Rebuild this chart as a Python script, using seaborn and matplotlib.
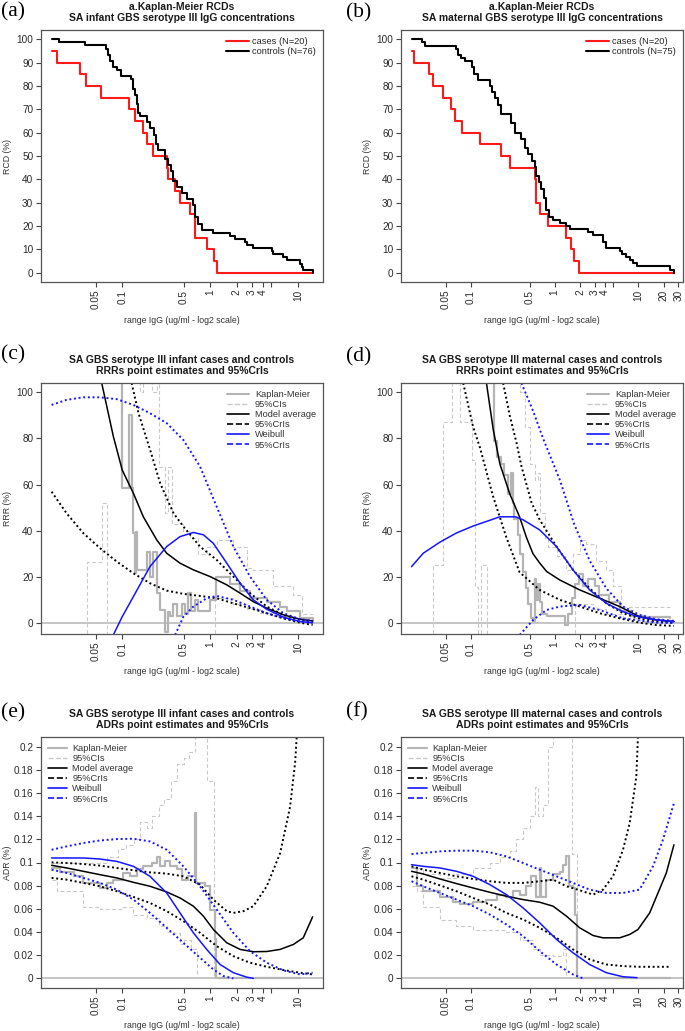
import matplotlib
matplotlib.use('Agg')
import matplotlib.pyplot as plt
from matplotlib.lines import Line2D
from matplotlib.ticker import NullLocator
import seaborn as sns

sns.set_theme(style='ticks')
plt.rcParams['font.family'] = ['Liberation Sans', 'DejaVu Sans']

# ---------------- (a) infant Kaplan-Meier RCDs ----------------
a_case_x = [0.0157, 0.0183, 0.033, 0.0384, 0.0574, 0.12, 0.14, 0.174, 0.19, 0.222, 0.321, 0.335,
            0.40, 0.455, 0.59, 0.675, 0.93, 1.12, 1.19, 14.7]
a_case_y = [95, 90, 85, 80, 75, 70, 65, 60, 55, 50, 45, 40, 35, 30, 25, 15, 10, 5, 0, 0]
a_ctrl_x = [0.0157, 0.0193, 0.0378, 0.0655, 0.0696, 0.0727, 0.078, 0.0866, 0.0962, 0.125, 0.132,
            0.138, 0.146, 0.153, 0.160, 0.190, 0.207, 0.230, 0.243, 0.258, 0.308, 0.336, 0.360,
            0.383, 0.417, 0.475, 0.542, 0.646, 0.675, 0.736, 0.804, 1.09, 1.69, 1.93, 2.50, 2.61,
            3.11, 5.03, 5.17, 6.72, 7.46, 10.6, 11.1, 11.4, 14.7]
a_ctrl_y = [100, 98.7, 97.4, 96, 93.4, 90.8, 88.2, 86.8, 84.2, 82.9, 78.9, 76.3, 72.4, 68.4, 67.1,
            64.5, 61.8, 59.2, 55.3, 52.6, 48.7, 46, 43.4, 39.5, 36.8, 34.2, 31.6, 28.9, 23.7, 21,
            18.4, 17.1, 15.8, 14.5, 13.2, 11.8, 10.5, 9.2, 7.9, 6.6, 5.3, 3.9, 2.6, 1.3, 0]

# ---------------- (b) maternal Kaplan-Meier RCDs ----------------
b_case_x = [0.0195, 0.0208, 0.0317, 0.0354, 0.0457, 0.0585, 0.0653, 0.0785, 0.127, 0.231, 0.296,
            0.577, 0.604, 0.662, 0.832, 1.38, 1.58, 1.70, 1.93, 26.5]
b_case_y = [95, 90, 85, 80, 75, 70, 65, 60, 55, 50, 45, 40, 30, 25, 20, 15, 10, 5, 0, 0]
b_ctrl_x = [0.0195, 0.0257, 0.0281, 0.0671, 0.0703, 0.077, 0.0844, 0.104, 0.109, 0.120, 0.168,
            0.180, 0.192, 0.211, 0.231, 0.304, 0.333, 0.400, 0.439, 0.481, 0.542, 0.577, 0.604,
            0.650, 0.694, 0.740, 0.796, 0.856, 0.955, 1.15, 1.38, 1.51, 2.50, 2.87, 3.77, 4.13,
            5.96, 6.42, 7.03, 7.85, 8.60, 9.68, 23.5, 26.5]
b_ctrl_y = [100, 98.7, 97.3, 96, 93.3, 92, 90.7, 88, 85.3, 82.7, 80, 77.3, 74.7, 72, 68, 64, 60,
            57.3, 53.3, 50.7, 48, 45.3, 41.3, 38.7, 36, 32, 26.7, 24, 22.7, 21.3, 20, 18.7, 17.3,
            16, 13.3, 10.7, 9.3, 8, 6.7, 5.3, 4, 2.7, 1.3, 0]

# ---------------- (c) infant RRR ----------------
c_km_x = [0.0906, 0.099, 0.121, 0.129, 0.134, 0.140, 0.143, 0.147, 0.190, 0.208, 0.227, 0.247,
          0.270, 0.308, 0.333, 0.350, 0.383, 0.417, 0.475, 0.520, 0.566, 0.600, 0.675, 0.736,
          1.00, 1.17, 1.69, 2.20, 2.85, 4.42, 6.27, 7.46, 10.6, 14.7]
c_km_y = [110, 58.4, 90, 58.4, 39, 21.6, 39.4, 23, 30.7, 20, 30.7, 13, 5.6, -4, 4.7, 3, 8, 3, 8,
          4, 13, 5, 10, 5, 10, 20, 17, 14, 11, 9, 7, 5, 2, 1]
c_ciu1_x = [0.0399, 0.0399, 0.059, 0.0673, 0.0673]
c_ciu1_y = [-10, 26.4, 52, 52, -10]
c_ciu2_x = [0.134, 0.160, 0.174, 0.217, 0.247, 0.265, 0.308, 0.336, 0.366, 0.497, 0.59, 0.736,
            0.916, 1.19, 1.84, 2.61, 3.11, 5.26, 8.89, 11.1, 14.7]
c_ciu2_y = [110, 100, 110, 100, 110, 67.8, 47.5, 67.8, 43, 40, 37, 30, 33, 36, 33, 24, 23, 16,
            12, 4, 4]
c_cil_x = [1.14, 1.14, 1.84, 2.61, 3.71, 5.74, 8.89, 14.7]
c_cil_y = [-10, 10.7, 8, 6, 4.5, 3, 2, 0.5]
c_avg_x = [0.0559, 0.0584, 0.0793, 0.1, 0.134, 0.174, 0.247, 0.321, 0.455, 0.646, 1.0, 1.55,
           2.20, 3.11, 4.42, 6.84, 10.6, 14.7]
c_avg_y = [110, 104, 80.8, 66.3, 56.2, 46, 36, 30.2, 25.9, 23, 20.1, 16.5, 12.9, 9.2, 6.4, 3.5,
           1.6, 0.9]
c_avg_lo_x = [0.0157, 0.0233, 0.0361, 0.0559, 0.0866, 0.134, 0.207, 0.321, 0.497, 0.769, 1.19,
              1.84, 2.85, 4.42, 6.84, 10.6, 14.7]
c_avg_lo_y = [56.9, 47.5, 38.9, 32.4, 26.6, 21.5, 17.2, 14, 12.6, 11.7, 10.7, 8.5, 6.4, 4.2, 2,
              0.1, -0.9]
c_avg_hi_x = [0.128, 0.153, 0.208, 0.27, 0.383, 0.497, 0.769, 1.19, 1.84, 2.85, 4.42, 6.84,
              10.6, 14.7]
c_avg_hi_y = [104, 91, 75, 60.6, 47.6, 41.8, 33.1, 27.3, 20.1, 12.9, 7.1, 3.5, 1.3, 0.6]
c_wei_x = [0.0793, 0.1, 0.134, 0.207, 0.321, 0.455, 0.646, 0.84, 1.09, 1.55, 2.20, 3.11, 4.42,
           6.84, 10.6, 14.7]
c_wei_y = [-5.2, 2.7, 11.4, 24.4, 33.1, 37.4, 39.2, 38.2, 34.5, 25.9, 17.2, 10, 5.9, 2.5, 0.6,
           0.1]
c_wei_hi_x = [0.0157, 0.0233, 0.0361, 0.0559, 0.0866, 0.134, 0.207, 0.321, 0.497, 0.769, 1.19,
              1.84, 2.85, 4.42, 6.84, 10.6, 14.7]
c_wei_hi_y = [94.5, 96.7, 97.8, 97.8, 97, 94.5, 90.9, 86.6, 79.3, 67.8, 50.4, 33.1, 20.1, 10,
              4.2, 1.6, 0.9]
c_wei_lo_x = [0.40, 0.497, 0.646, 0.916, 1.19, 1.84, 2.85, 4.42, 6.84, 10.6, 14.7]
c_wei_lo_y = [-5.2, 2.7, 7.1, 10.7, 11.7, 10, 7.1, 4.2, 2, 0.6, 0.1]

# ---------------- (d) maternal RRR ----------------
d_km_x = [0.18, 0.187, 0.205, 0.23, 0.25, 0.28, 0.30, 0.315, 0.33, 0.36, 0.39, 0.42, 0.45, 0.48,
          0.52, 0.55, 0.58, 0.60, 0.63, 0.66, 0.70, 0.80, 1.0, 1.32, 1.45, 1.6, 1.75, 1.95, 2.2,
          2.5, 3.0, 3.4, 4.5, 6.0, 8.0, 12.0, 23.5]
d_km_y = [110, 79, 72, 69, 64, 56, 65, 52, 45, 38, 30, 22, 15, 8, 2, 1, 19, 10, 17, 9, 4, 3, 3,
          -1, 4, 11, 17, 21, 16, 19, 16, 12, 9, 5, 3, 2.5, 2.3]
d_ciu1_x = [0.0354, 0.0354, 0.0466, 0.0587, 0.0738, 0.1017, 0.111, 0.122]
d_ciu1_y = [-10, 25, 87, 110, 87, 70.6, 15.7, -10]
d_ciu2_x = [0.131, 0.131, 0.156]
d_ciu2_y = [-10, 25, -10]
d_ciu3_x = [0.349, 0.382, 0.439, 0.503, 0.577, 0.633, 0.662, 0.76, 0.833, 1.05, 1.38, 1.65,
            1.99, 2.39, 3.14, 4.13, 4.96, 6.24, 23.5]
d_ciu3_y = [110, 100, 85, 69, 62, 65, 47.5, 37, 33, 29, 23, 30, 36, 34, 27, 23, 16, 7, 7]
d_cil_x = [1.73, 1.73, 2.87, 4.13, 6.53, 10.3, 23.5]
d_cil_y = [-10, 8, 6, 4, 2, 1, 0.5]
d_avg_x = [0.153, 0.184, 0.221, 0.29, 0.38, 0.46, 0.55, 0.66, 0.80, 1.15, 1.99, 3.44, 5.96, 10.3,
           16.3, 26.5]
d_avg_y = [104, 84, 69, 56, 46, 37, 30, 26, 22.3, 18.6, 14.3, 10.7, 7.1, 2.7, 1.3, 0.6]
d_avg_lo_x = [0.0807, 0.106, 0.128, 0.183, 0.265, 0.38, 0.66, 1.15, 1.99, 3.44, 5.96, 10.3, 16.3,
              26.5]
d_avg_lo_y = [104, 85, 76, 55, 37, 22, 14.3, 10, 7.1, 4.2, 2, 0.1, -0.9, -1.3]
d_avg_hi_x = [0.242, 0.29, 0.35, 0.40, 0.46, 0.53, 0.662, 1.05, 1.65, 2.61, 4.13, 6.53, 10.3,
              16.3, 26.5]
d_avg_hi_y = [104, 90, 78, 68, 60, 52, 44.7, 33.1, 23, 15, 8.5, 4.2, 2, 0.6, 0]
d_wei_x = [0.0195, 0.0269, 0.0425, 0.0671, 0.106, 0.168, 0.221, 0.34, 0.419, 0.662, 1.05, 1.65,
           2.61, 4.13, 6.53, 10.3, 16.3, 26.5]
d_wei_y = [24.4, 30.2, 35, 39, 42, 44.5, 46, 46, 44.7, 40.3, 33.1, 23, 14.3, 8.5, 4.9, 2.5, 1.3,
           0.6]
d_wei_hi_x = [0.40, 0.55, 0.725, 1.15, 1.7, 2.61, 4.13, 6.53, 10.3, 16.3, 26.5]
d_wei_hi_y = [104, 92, 80, 62, 43, 27, 15, 7.1, 3.5, 1.6, 0.9]
d_wei_lo_x = [0.382, 0.552, 0.796, 1.15, 1.99, 3.44, 6.53, 16.3, 26.5]
d_wei_lo_y = [-5.2, 1.3, 5.6, 7.1, 7.8, 5.6, 2, 0.1, 0]

# ---------------- (e) infant ADR ----------------
e_km_x = [0.0157, 0.0195, 0.0279, 0.0361, 0.0559, 0.0665, 0.0793, 0.102, 0.123, 0.146, 0.174,
          0.217, 0.247, 0.27, 0.308, 0.35, 0.417, 0.475, 0.566, 0.675, 0.685, 0.877, 1.0, 1.14,
          1.17, 10.6]
e_km_y = [0.095, 0.092, 0.088, 0.082, 0.078, 0.082, 0.085, 0.091, 0.088, 0.094, 0.097, 0.0996,
          0.105, 0.097, 0.101, 0.097, 0.094, 0.085, 0.088, 0.143, 0.082, 0.0795, 0.059, 0.034,
          0.0, 0.0]
e_ciu_x = [0.0157, 0.0361, 0.0664, 0.09, 0.11, 0.135, 0.16, 0.19, 0.22, 0.26, 0.30, 0.36, 0.42,
           0.50, 0.58, 0.68, 0.93, 1.11]
e_ciu_y = [0.10, 0.10, 0.105, 0.112, 0.115, 0.12, 0.135, 0.13, 0.14, 0.15, 0.155, 0.17, 0.185,
           0.19, 0.195, 0.215, 0.17, 0.0]
e_cil_x = [0.0157, 0.0183, 0.0361, 0.0559, 0.10, 0.134, 0.19, 0.26, 0.32, 0.39, 0.45, 0.50, 0.60,
           0.705]
e_cil_y = [0.085, 0.075, 0.062, 0.06, 0.062, 0.055, 0.052, 0.045, 0.04, 0.039, 0.03, 0.033,
           0.025, 0.0]
e_avg_x = [0.0157, 0.0233, 0.0361, 0.0559, 0.0866, 0.134, 0.207, 0.321, 0.455, 0.646, 0.84,
           1.09, 1.55, 2.20, 3.11, 4.42, 6.27, 8.89, 11.5, 14.7]
e_avg_y = [0.0976, 0.0953, 0.0924, 0.0895, 0.0867, 0.0829, 0.0795, 0.0746, 0.0694, 0.0623,
           0.0537, 0.0422, 0.0307, 0.025, 0.023, 0.0232, 0.025, 0.0293, 0.035, 0.0531]
e_avg_hi_x = [0.0157, 0.0233, 0.0361, 0.0559, 0.0866, 0.134, 0.207, 0.321, 0.497, 0.769, 1.09,
              1.55, 1.84, 2.40, 3.11, 4.42, 6.27, 8.14, 9.29, 9.70]
e_avg_hi_y = [0.1001, 0.0996, 0.0987, 0.0973, 0.0953, 0.0933, 0.0915, 0.0904, 0.0881, 0.0809,
              0.068, 0.058, 0.0565, 0.058, 0.0623, 0.0795, 0.108, 0.148, 0.186, 0.209]
e_avg_lo_x = [0.0157, 0.0233, 0.0361, 0.0559, 0.0866, 0.134, 0.207, 0.321, 0.497, 0.769, 1.19,
              1.84, 2.85, 4.42, 6.84, 10.6, 14.7]
e_avg_lo_y = [0.0867, 0.0852, 0.0824, 0.0795, 0.0752, 0.0703, 0.0651, 0.058, 0.0494, 0.0393,
              0.0278, 0.0192, 0.0135, 0.010, 0.0072, 0.0049, 0.0034]
e_wei_x = [0.0157, 0.0361, 0.0559, 0.0866, 0.134, 0.207, 0.321, 0.455, 0.646, 0.916, 1.30, 1.84,
           2.61, 3.11]
e_wei_y = [0.1039, 0.1039, 0.103, 0.101, 0.0967, 0.0881, 0.0737, 0.0565, 0.0393, 0.025, 0.012,
           0.0049, 0.0011, 0.0]
e_wei_hi_x = [0.0157, 0.0233, 0.0361, 0.0559, 0.0866, 0.134, 0.207, 0.321, 0.497, 0.769, 1.19,
              1.84, 2.85, 4.42, 6.84, 10.6, 14.7]
e_wei_hi_y = [0.111, 0.1139, 0.1168, 0.119, 0.1202, 0.1205, 0.1182, 0.111, 0.0967, 0.0795,
              0.0594, 0.0393, 0.0235, 0.0135, 0.0069, 0.0034, 0.0049]
e_wei_lo_x = [0.0157, 0.0233, 0.0361, 0.0559, 0.0866, 0.134, 0.207, 0.321, 0.497, 0.769, 1.09,
              1.42, 1.84]
e_wei_lo_y = [0.0938, 0.091, 0.0867, 0.0824, 0.0766, 0.068, 0.0565, 0.0436, 0.0307, 0.0178,
              0.0077, 0.002, 0.0]

# ---------------- (f) maternal ADR ----------------
f_km_x = [0.0195, 0.0225, 0.0269, 0.0425, 0.0613, 0.0737, 0.106, 0.153, 0.202, 0.265, 0.318,
          0.382, 0.459, 0.527, 0.604, 0.662, 0.694, 0.796, 0.955, 1.15, 1.26, 1.38, 1.48, 1.65,
          1.73, 1.85, 23.5]
f_km_y = [0.095, 0.08, 0.075, 0.070, 0.066, 0.064, 0.066, 0.068, 0.072, 0.070, 0.075, 0.072,
          0.080, 0.088, 0.070, 0.095, 0.070, 0.085, 0.090, 0.092, 0.098, 0.106, 0.080, 0.078,
          0.055, 0.0, 0.0]
f_ciu_x = [0.0195, 0.0269, 0.0425, 0.0671, 0.106, 0.168, 0.221, 0.29, 0.349, 0.419, 0.503, 0.577,
           0.633, 0.726, 0.833, 0.955, 1.58, 1.62, 1.85]
f_ciu_y = [0.095, 0.09, 0.087, 0.09, 0.095, 0.10, 0.105, 0.11, 0.12, 0.13, 0.14, 0.165, 0.14,
           0.15, 0.2, 0.215, 0.215, 0.107, 0.0]
f_cil_x = [0.0195, 0.0225, 0.0269, 0.0425, 0.0671, 0.106, 0.168, 0.265, 0.382, 0.552, 0.662,
           0.955, 1.26, 1.38]
f_cil_y = [0.08, 0.075, 0.062, 0.05, 0.045, 0.042, 0.042, 0.04, 0.033, 0.025, 0.02, 0.019, 0.025,
           0.0]
f_avg_x = [0.0195, 0.0269, 0.0425, 0.0671, 0.106, 0.168, 0.265, 0.419, 0.662, 0.955, 1.38, 1.99,
           2.87, 3.77, 5.96, 7.85, 9.86, 13.6, 21.5, 26.5]
f_avg_y = [0.0924, 0.0901, 0.0858, 0.0818, 0.078, 0.0743, 0.0709, 0.068, 0.0657, 0.0623, 0.0537,
           0.0436, 0.037, 0.035, 0.035, 0.0379, 0.0422, 0.0565, 0.091, 0.1153]
f_avg_hi_x = [0.0195, 0.0269, 0.0425, 0.0671, 0.106, 0.168, 0.265, 0.419, 0.662, 0.955, 1.38,
              1.99, 2.87, 3.77, 4.96, 6.53, 7.85, 9.42, 9.86]
f_avg_hi_y = [0.0967, 0.0938, 0.091, 0.0881, 0.0858, 0.0838, 0.0824, 0.0824, 0.0838, 0.0852,
              0.0795, 0.076, 0.0723, 0.0766, 0.0881, 0.111, 0.134, 0.174, 0.209]
f_avg_lo_x = [0.0195, 0.0269, 0.0425, 0.0671, 0.106, 0.168, 0.265, 0.419, 0.662, 1.05, 1.65,
              2.61, 4.13, 6.53, 10.3, 23.5]
f_avg_lo_y = [0.0881, 0.0852, 0.0803, 0.0752, 0.0694, 0.0637, 0.0565, 0.0508, 0.0436, 0.035,
              0.025, 0.0164, 0.012, 0.0106, 0.01, 0.01]
f_wei_x = [0.0195, 0.0269, 0.0425, 0.0671, 0.106, 0.168, 0.265, 0.419, 0.662, 1.05, 1.65, 2.61,
           4.13, 6.53, 9.6]
f_wei_y = [0.0981, 0.0967, 0.0953, 0.0924, 0.0881, 0.0809, 0.0723, 0.0608, 0.0479, 0.0336,
           0.0221, 0.012, 0.0049, 0.0014, 0.0006]
f_wei_hi_x = [0.0195, 0.0269, 0.0425, 0.0671, 0.106, 0.168, 0.265, 0.419, 0.662, 1.05, 1.65,
              2.61, 4.13, 6.53, 10.3, 14.9, 19.6, 26.5]
f_wei_hi_y = [0.1073, 0.1082, 0.1096, 0.1102, 0.1102, 0.1088, 0.1053, 0.0996, 0.0938, 0.0881,
              0.0824, 0.0766, 0.0737, 0.0737, 0.0766, 0.0967, 0.1197, 0.1512]
f_wei_lo_x = [0.0195, 0.0269, 0.0425, 0.0671, 0.106, 0.168, 0.265, 0.419, 0.662, 1.05, 1.65, 2.18]
f_wei_lo_y = [0.0838, 0.0795, 0.0737, 0.068, 0.0623, 0.0551, 0.0465, 0.0364, 0.0235, 0.012,
              0.0034, 0.0]

# ---------------- axis settings ----------------
xt_infant = [0.05, 0.1, 0.5, 1, 2, 3, 4, 5, 10]
xl_infant = ['0.05', '0.1', '0.5', '1', '2', '3', '4', '', '10']
xt_maternal = [0.05, 0.1, 0.5, 1, 2, 3, 4, 5, 10, 20, 30]
xl_maternal = ['0.05', '0.1', '0.5', '1', '2', '3', '4', '', '10', '20', '30']
yt_rcd = list(range(0, 101, 10))
yt_rrr = list(range(0, 101, 20))
yt_adr = [0, 0.02, 0.04, 0.06, 0.08, 0.1, 0.12, 0.14, 0.16, 0.18, 0.2]
yl_adr = ['0', '0.02', '0.04', '0.06', '0.08', '0.1', '0.12', '0.14', '0.16', '0.18', '0.2']

RED = '#ff1a1a'
BLUE = '#1515ff'
KMGRAY = '#b4b4b4'
CIGRAY = '#c9c9c9'
ZERO = '#c0c0c0'
DOT = (0, (1, 1.4))
DASH = (0, (3.5, 2.2))
TXT = '#2a2a2a'

W, H = 685, 1031
fig = plt.figure(figsize=(W / 100, H / 100), dpi=100)


def add_axes(left, top, right, bottom):
    return fig.add_axes([left / W, 1 - bottom / H, (right - left) / W, (bottom - top) / H])


def draw(ax, x, y, color, lw=1.0, ls='-', steps=False):
    sns.lineplot(x=x, y=y, ax=ax, color=color, linewidth=lw, linestyle=ls,
                 estimator=None, sort=False, legend=False,
                 drawstyle='steps-post' if steps else 'default')


def finish(ax, title, xlim, xt, xl, ylim, yt, yl, ylabel):
    ax.set_xscale('log')
    ax.set_xlim(xlim)
    ax.set_ylim(ylim)
    ax.set_xticks(xt)
    ax.set_xticklabels(xl, rotation=90)
    ax.xaxis.set_minor_locator(NullLocator())
    ax.set_yticks(yt)
    ax.set_yticklabels(yl)
    ax.tick_params(axis='both', direction='out', length=3.5, width=0.8, color='#444444',
                   labelsize=7.2, labelcolor=TXT, pad=2)
    for s in ax.spines.values():
        s.set_visible(True)
        s.set_linewidth(0.9)
        s.set_color('#555555')
    ax.set_title(title, fontsize=7.5, fontweight='bold', color='#1a1a1a', pad=6.5,
                 linespacing=1.15)
    ax.set_xlabel('range IgG (ug/ml - log2 scale)', fontsize=6.3, color='#333333')
    ax.set_ylabel(ylabel, fontsize=6.3, color='#333333')
    ax.xaxis.set_label_coords(0.5, -0.133)
    ax.yaxis.set_label_coords(-0.102, 0.5)
    ax.set_facecolor('white')


def model_legend(ax, loc, hl):
    handles = [
        Line2D([], [], color=KMGRAY, lw=1.5),
        Line2D([], [], color=CIGRAY, lw=1.0, ls='--'),
        Line2D([], [], color='black', lw=1.2),
        Line2D([], [], color='black', lw=1.2, ls='--'),
        Line2D([], [], color=BLUE, lw=1.2),
        Line2D([], [], color=BLUE, lw=1.2, ls='--'),
    ]
    labels = ['Kaplan-Meier', '95%CIs', 'Model average', '95%CrIs', 'Weibull', '95%CrIs']
    leg = ax.legend(handles, labels, loc=loc, frameon=False, fontsize=6.7, handlelength=hl,
                    handletextpad=0.6, labelspacing=0.12, borderaxespad=0.35)
    for t in leg.get_texts():
        t.set_color('#333333')


def draw_rrr_adr(ax, km, ciu, cil, avg, avg_lo, avg_hi, wei, wei_hi, wei_lo):
    ax.set_xscale('log')
    ax.axhline(0, color=ZERO, lw=1.3, zorder=1)
    for x, y in ciu + cil:
        draw(ax, x, y, CIGRAY, lw=0.8, ls=DASH, steps=True)
    draw(ax, km[0], km[1], KMGRAY, lw=1.6, steps=True)
    draw(ax, avg_lo[0], avg_lo[1], 'black', lw=1.4, ls=DOT)
    draw(ax, avg_hi[0], avg_hi[1], 'black', lw=1.4, ls=DOT)
    draw(ax, avg[0], avg[1], 'black', lw=1.1)
    draw(ax, wei_hi[0], wei_hi[1], BLUE, lw=1.4, ls=DOT)
    draw(ax, wei_lo[0], wei_lo[1], BLUE, lw=1.4, ls=DOT)
    draw(ax, wei[0], wei[1], BLUE, lw=1.1)


def km_legend(ax, n_ctrl):
    ax.legend([Line2D([], [], color=RED, lw=1.5), Line2D([], [], color='black', lw=1.5)],
              ['cases (N=20)', 'controls (N=%d)' % n_ctrl], loc='upper right', frameon=False,
              fontsize=6.7, handlelength=2.4, handletextpad=0.4, labelspacing=0.12,
              borderaxespad=0.35)


xlim_inf = (0.0119, 19.3)
xlim_mat = (0.0146, 34.0)

# (a)
ax = add_axes(41, 30, 323, 282)
ax.set_xscale('log')
draw(ax, a_case_x, a_case_y, RED, lw=1.5, steps=True)
draw(ax, a_ctrl_x, a_ctrl_y, 'black', lw=1.5, steps=True)
finish(ax, 'a.Kaplan-Meier RCDs\nSA infant GBS serotype III IgG concentrations',
       xlim_inf, xt_infant, xl_infant, (-4, 104), yt_rcd, [str(v) for v in yt_rcd], 'RCD (%)')
km_legend(ax, 76)

# (b)
ax = add_axes(401, 30, 683, 282)
ax.set_xscale('log')
draw(ax, b_case_x, b_case_y, RED, lw=1.5, steps=True)
draw(ax, b_ctrl_x, b_ctrl_y, 'black', lw=1.5, steps=True)
finish(ax, 'a.Kaplan-Meier RCDs\nSA maternal GBS serotype III IgG concentrations',
       xlim_mat, xt_maternal, xl_maternal, (-4, 104), yt_rcd, [str(v) for v in yt_rcd], 'RCD (%)')
km_legend(ax, 75)

# (c)
ax = add_axes(41, 383, 323, 634)
draw_rrr_adr(ax, (c_km_x, c_km_y), [(c_ciu1_x, c_ciu1_y), (c_ciu2_x, c_ciu2_y)],
             [(c_cil_x, c_cil_y)], (c_avg_x, c_avg_y), (c_avg_lo_x, c_avg_lo_y),
             (c_avg_hi_x, c_avg_hi_y), (c_wei_x, c_wei_y), (c_wei_hi_x, c_wei_hi_y),
             (c_wei_lo_x, c_wei_lo_y))
finish(ax, 'SA GBS serotype III infant cases and controls\nRRRs point estimates and 95%CrIs',
       xlim_inf, xt_infant, xl_infant, (-4.8, 104), yt_rrr, [str(v) for v in yt_rrr], 'RRR (%)')
model_legend(ax, 'upper right', 2.4)

# (d)
ax = add_axes(401, 383, 683, 634)
draw_rrr_adr(ax, (d_km_x, d_km_y),
             [(d_ciu1_x, d_ciu1_y), (d_ciu2_x, d_ciu2_y), (d_ciu3_x, d_ciu3_y)],
             [(d_cil_x, d_cil_y)], (d_avg_x, d_avg_y), (d_avg_lo_x, d_avg_lo_y),
             (d_avg_hi_x, d_avg_hi_y), (d_wei_x, d_wei_y), (d_wei_hi_x, d_wei_hi_y),
             (d_wei_lo_x, d_wei_lo_y))
finish(ax, 'SA GBS serotype III maternal cases and controls\nRRRs point estimates and 95%CrIs',
       xlim_mat, xt_maternal, xl_maternal, (-4.8, 104), yt_rrr, [str(v) for v in yt_rrr], 'RRR (%)')
model_legend(ax, 'upper right', 2.4)

# (e)
ax = add_axes(41, 737, 323, 988)
draw_rrr_adr(ax, (e_km_x, e_km_y), [(e_ciu_x, e_ciu_y)], [(e_cil_x, e_cil_y)],
             (e_avg_x, e_avg_y), (e_avg_lo_x, e_avg_lo_y), (e_avg_hi_x, e_avg_hi_y),
             (e_wei_x, e_wei_y), (e_wei_hi_x, e_wei_hi_y), (e_wei_lo_x, e_wei_lo_y))
finish(ax, 'SA GBS serotype III infant cases and controls\nADRs point estimates and 95%CrIs',
       xlim_inf, xt_infant, xl_infant, (-0.0083, 0.2083), yt_adr, yl_adr, 'ADR (%)')
model_legend(ax, 'upper left', 2.0)

# (f)
ax = add_axes(401, 737, 683, 988)
draw_rrr_adr(ax, (f_km_x, f_km_y), [(f_ciu_x, f_ciu_y)], [(f_cil_x, f_cil_y)],
             (f_avg_x, f_avg_y), (f_avg_lo_x, f_avg_lo_y), (f_avg_hi_x, f_avg_hi_y),
             (f_wei_x, f_wei_y), (f_wei_hi_x, f_wei_hi_y), (f_wei_lo_x, f_wei_lo_y))
finish(ax, 'SA GBS serotype III maternal cases and controls\nADRs point estimates and 95%CrIs',
       xlim_mat, xt_maternal, xl_maternal, (-0.0083, 0.2083), yt_adr, yl_adr, 'ADR (%)')
model_legend(ax, 'upper left', 2.0)

# panel letters
for lab, px, py in [('(a)', 1, 12), ('(b)', 346, 13), ('(c)', 1, 355),
                    ('(d)', 346, 357), ('(e)', 1, 713), ('(f)', 346, 712)]:
    fig.text(px / W, 1 - py / H, lab, fontsize=15.5, family='Liberation Serif',
             va='center', ha='left', color='black')

fig.savefig('out.png', dpi=100, facecolor='white')
